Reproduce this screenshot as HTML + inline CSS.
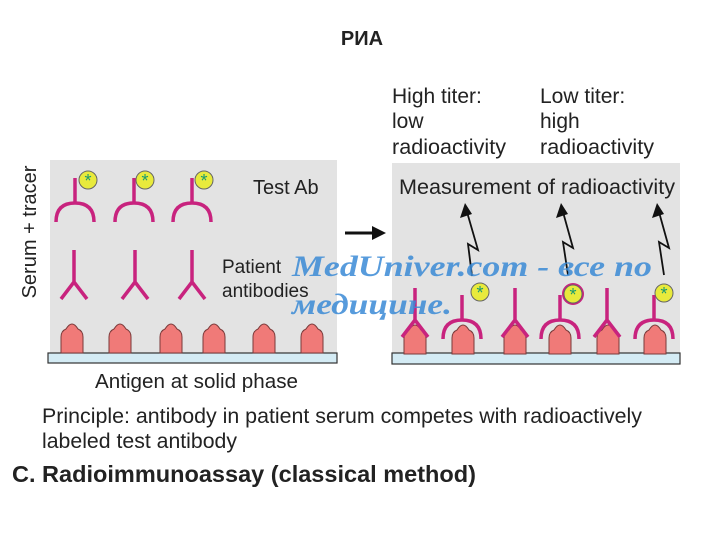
<!DOCTYPE html>
<html><head><meta charset="utf-8"><style>
body{margin:0;background:#fff;width:720px;height:540px;overflow:hidden}
svg{display:block}
text{font-family:"Liberation Sans","DejaVu Sans",sans-serif;fill:#222}
</style></head><body>
<svg width="720" height="540" viewBox="0 0 720 540">
<defs>
<g id="ag"><path d="M-11,24 L-11,8 Q-11,2 -6,0 Q-3,-5 0,-5 Q3,-5 6,0 Q11,2 11,8 L11,24 Z" fill="#f07a78" stroke="#7a3a3a" stroke-width="1"/></g>
<g id="tab" fill="none" stroke="#c8237e" stroke-width="3.5"><path d="M0,-20 L0,6"/><path d="M-19,24 Q-19,5 0,5 Q19,5 19,24"/></g>
<g id="pab" fill="none" stroke="#c8237e" stroke-width="3.5"><path d="M0,-24 L0,8 M0,8 L-13,25 M0,8 L13,25"/></g>
<g id="star"><circle r="9" fill="#e8ea3c" stroke="#666" stroke-width="1"/><text x="0" y="7" text-anchor="middle" font-size="18" style="fill:#1a9a70">*</text></g>
</defs>
<text x="362" y="45" text-anchor="middle" font-size="20" font-weight="bold">РИА</text>
<rect x="50" y="160" width="287" height="193" fill="#e3e3e3"/>
<rect x="48" y="353" width="289" height="10" fill="#d4ebf4" stroke="#333" stroke-width="1.2"/>
<g><use href="#ag" x="72" y="329"/><use href="#ag" x="120" y="329"/><use href="#ag" x="171" y="329"/><use href="#ag" x="214" y="329"/><use href="#ag" x="264" y="329"/><use href="#ag" x="312" y="329"/></g>
<use href="#tab" x="75" y="198"/><use href="#tab" x="134" y="198"/><use href="#tab" x="192" y="198"/>
<use href="#star" x="88" y="180"/><use href="#star" x="145" y="180"/><use href="#star" x="204" y="180"/>
<use href="#pab" x="74" y="274"/><use href="#pab" x="135" y="274"/><use href="#pab" x="192" y="274"/>
<text x="253" y="194" font-size="20">Test Ab</text>
<text x="222" y="273" font-size="19">Patient</text>
<text x="222" y="297" font-size="19">antibodies</text>
<text transform="translate(36,232) rotate(-90)" text-anchor="middle" font-size="20">Serum + tracer</text>
<path d="M345,233 L375,233" stroke="#111" stroke-width="3"/><path d="M372,226 L386,233 L372,240 Z" fill="#111"/>
<rect x="392" y="163" width="288" height="190" fill="#e3e3e3"/>
<rect x="392" y="353" width="288" height="11" fill="#d4ebf4" stroke="#333" stroke-width="1.2"/>
<g><use href="#ag" x="415" y="330"/><use href="#ag" x="463" y="330"/><use href="#ag" x="515" y="330"/><use href="#ag" x="560" y="330"/><use href="#ag" x="608" y="330"/><use href="#ag" x="655" y="330"/></g>
<use href="#pab" x="415" y="312"/><use href="#pab" x="515" y="312"/><use href="#pab" x="607" y="312"/>
<use href="#tab" x="462" y="315"/><use href="#tab" x="560" y="315"/><use href="#tab" x="654" y="315"/>
<use href="#star" x="480" y="292"/><circle cx="573" cy="294" r="11" fill="#c8237e"/><use href="#star" x="573" y="294"/><use href="#star" x="664" y="293"/>
<g fill="none" stroke="#111" stroke-width="1.8">
<path d="M467,212 L478,250 L468,244 L472,276"/><path d="M563,212 L573,248 L563,242 L568,275"/><path d="M659,212 L669,248 L659,242 L664,275"/>
</g>
<g fill="#111"><path d="M460,218 L465,203 L472,214 Z"/><path d="M556,218 L561,203 L568,214 Z"/><path d="M652,218 L657,203 L664,214 Z"/></g>
<text x="399" y="194" font-size="21.5" textLength="276" lengthAdjust="spacingAndGlyphs">Measurement of  radioactivity</text>
<text x="392" y="103" font-size="21">High titer:</text><text x="392" y="128" font-size="21">low</text><text x="392" y="154" font-size="21" textLength="114" lengthAdjust="spacingAndGlyphs">radioactivity</text>
<text x="540" y="103" font-size="21">Low titer:</text><text x="540" y="128" font-size="21">high</text><text x="540" y="154" font-size="21" textLength="114" lengthAdjust="spacingAndGlyphs">radioactivity</text>
<text x="292" y="276" font-size="30" font-style="italic" font-weight="bold" textLength="360" lengthAdjust="spacingAndGlyphs" style="font-family:'Liberation Serif',serif;fill:#3a8ad6;opacity:.85">MedUniver.com - все по</text>
<text x="292" y="314" font-size="30" font-style="italic" font-weight="bold" textLength="160" lengthAdjust="spacingAndGlyphs" style="font-family:'Liberation Serif',serif;fill:#3a8ad6;opacity:.85">медицине.</text>
<text x="95" y="388" font-size="20.5" textLength="203" lengthAdjust="spacingAndGlyphs">Antigen at solid phase</text>
<text x="42" y="423" font-size="21" textLength="600" lengthAdjust="spacingAndGlyphs">Principle:  antibody in patient  serum competes with radioactively</text>
<text x="42" y="448" font-size="21" textLength="195" lengthAdjust="spacingAndGlyphs">labeled test antibody</text>
<text x="12" y="482" font-size="23" font-weight="bold" textLength="464" lengthAdjust="spacingAndGlyphs">C. Radioimmunoassay (classical method)</text>
</svg>
</body></html>
